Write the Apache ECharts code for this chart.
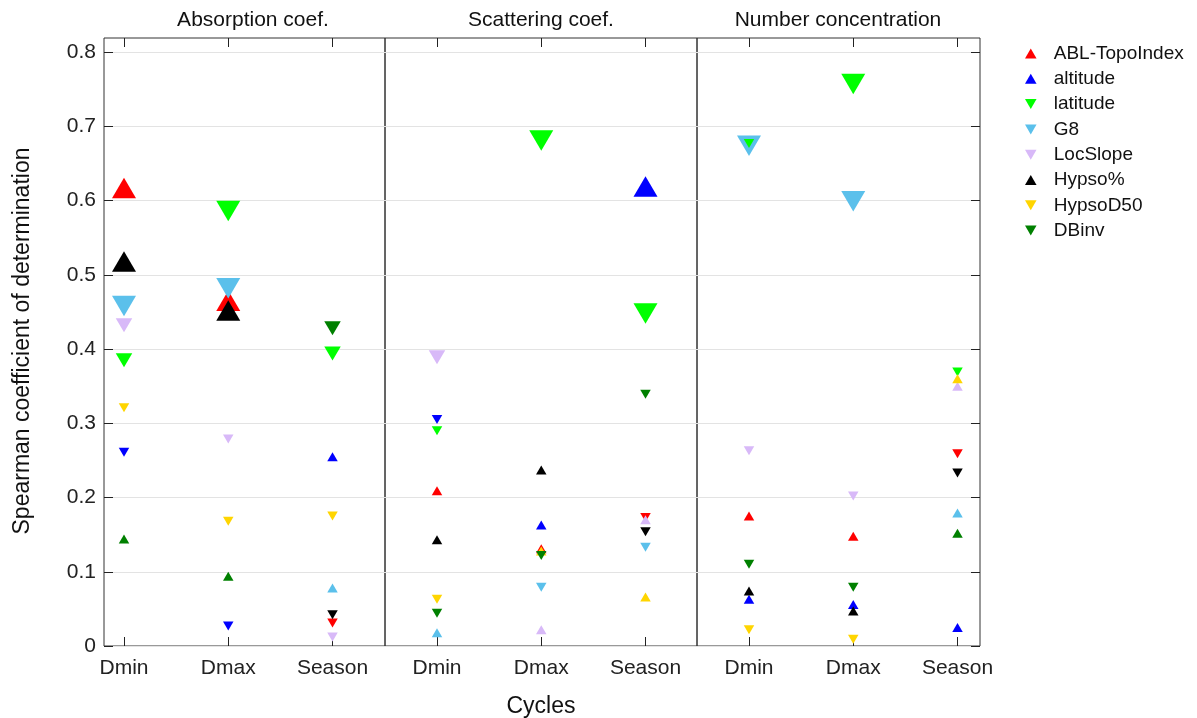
<!DOCTYPE html>
<html><head><meta charset="utf-8">
<script src="https://cdn.jsdelivr.net/npm/echarts@6/dist/echarts.min.js"></script>
<style>html,body{margin:0;padding:0;background:#fff}#c{width:1197px;height:718px}</style>
</head><body><div id="c"></div>
<script>
// ---------------- data ----------------
const cycles = ['Dmin', 'Dmax', 'Season'];
const panelTitles = ['Absorption coef.', 'Scattering coef.', 'Number concentration'];
const variables = ['ABL-TopoIndex', 'altitude', 'latitude', 'G8', 'LocSlope', 'Hypso%', 'HypsoD50', 'DBinv'];
// legend triangle direction (1 = up / positive, -1 = down / negative)
const legendSign = [1, 1, -1, -1, -1, 1, -1, -1];
const yTicks = [0, 0.1, 0.2, 0.3, 0.4, 0.5, 0.6, 0.7, 0.8];

// Spearman r^2, signed by correlation direction; rows = variables, cols = Dmin, Dmax, Season
const absorptionR2 = [
  [ 0.617,  0.465, -0.031],
  [-0.261, -0.027,  0.255],
  [-0.385, -0.586, -0.394],
  [-0.458, -0.482,  0.078],
  [-0.432, -0.279, -0.012],
  [ 0.518,  0.452, -0.042],
  [-0.321, -0.168, -0.175],
  [ 0.144,  0.094, -0.428]
];
const scatteringR2 = [
  [ 0.209,  0.131, -0.173],
  [-0.305,  0.163,  0.619],
  [-0.290, -0.681, -0.448],
  [ 0.018, -0.079, -0.133],
  [-0.389,  0.022,  0.170],
  [ 0.143,  0.237, -0.154],
  [-0.063,  0.128,  0.066],
  [-0.044, -0.122, -0.339]
];
const numberR2 = [
  [ 0.175,  0.148, -0.259],
  [ 0.063,  0.056,  0.025],
  [-0.677, -0.757, -0.369],
  [-0.674, -0.599,  0.179],
  [-0.263, -0.202,  0.350],
  [ 0.074,  0.047, -0.233],
  [-0.022, -0.009,  0.360],
  [-0.110, -0.079,  0.152]
];
// significance class (0 = low, 1 = medium, 2 = high)
const absorptionSig = [[2,2,0],[0,0,0],[1,2,1],[2,2,0],[1,0,0],[2,2,0],[0,0,0],[0,0,1]];
const scatteringSig = [[0,0,0],[0,0,2],[0,2,2],[0,0,0],[1,0,0],[0,0,0],[0,0,0],[0,0,0]];
const numberSig     = [[0,0,0],[0,0,0],[0,2,0],[2,2,0],[0,0,0],[0,0,0],[0,0,0],[0,0,0]];

// ---------------- styling / layout ----------------
const colors = ['#FF0000', '#0000FF', '#00FF00', '#5BC0EB', '#D8B9F8', '#000000', '#FFD500', '#008000'];
const DOWN = 'path://M0,0L20,0L10,17.32Z';
const UP = 'path://M10,0L20,17.32L0,17.32Z';
const symbolSizes = [[10.5, 9], [16.5, 14], [24, 20.5]];
const FONT = 'Liberation Sans, Arial, Helvetica, sans-serif';
const panelR2 = [absorptionR2, scatteringR2, numberR2];
const panelSig = [absorptionSig, scatteringSig, numberSig];
const gridLeft = [104, 385, 697];
const gridWidth = [281, 312, 283];
const firstCatPx = [124, 437, 749];
const titleX = [253, 541, 838];
const pxPerCat = 104.25;
const TOP = 38, HEIGHT = 608;
const YMAX = 0.819;

const grids = [], xAxes = [], yAxes = [], series = [], graphics = [];
const catIdx = cycles.map((c, i) => i);

gridLeft.forEach((left, p) => {
  grids.push({left: left, top: TOP, width: gridWidth[p], height: HEIGHT, show: true,
    borderColor: '#333', borderWidth: 1, backgroundColor: 'transparent', containLabel: false});
  const xmin = (left - firstCatPx[p]) / pxPerCat;
  const xmax = (left + gridWidth[p] - firstCatPx[p]) / pxPerCat;
  const tickStyle = {show: true, inside: true, length: 9, customValues: catIdx, lineStyle: {color: '#222', width: 1}};
  xAxes.push({type: 'value', gridIndex: p, min: xmin, max: xmax, position: 'bottom',
    axisLine: {show: false, onZero: false}, splitLine: {show: false},
    axisTick: tickStyle,
    axisLabel: {show: true, customValues: catIdx, margin: 12, color: '#222', fontSize: 21, fontFamily: FONT,
      formatter: v => cycles[Math.round(v)] || ''}
  });
  xAxes.push({type: 'value', gridIndex: p, min: xmin, max: xmax, position: 'top',
    axisLine: {show: false, onZero: false}, splitLine: {show: false},
    axisTick: tickStyle, axisLabel: {show: false}
  });
  const yTickStyle = {show: p === 0, inside: true, length: 9, customValues: yTicks, lineStyle: {color: '#222', width: 1}};
  yAxes.push({type: 'value', gridIndex: p, min: 0, max: YMAX, interval: 0.1, position: 'left',
    axisLine: {show: false, onZero: false},
    splitLine: {show: true, lineStyle: {color: '#e3e3e3', width: 1}},
    axisTick: yTickStyle,
    axisLabel: {show: p === 0, customValues: yTicks, margin: 8, color: '#222', fontSize: 21, fontFamily: FONT,
      formatter: v => v === 0 ? '0' : v.toFixed(1)}
  });
  if (p === 2) {
    yAxes.push({type: 'value', gridIndex: p, min: 0, max: YMAX, interval: 0.1, position: 'right',
      axisLine: {show: false, onZero: false}, splitLine: {show: false},
      axisTick: {show: true, inside: true, length: 9, customValues: yTicks, lineStyle: {color: '#222', width: 1}},
      axisLabel: {show: false}
    });
  }
  graphics.push({type: 'text', x: titleX[p], y: 20,
    style: {text: panelTitles[p], fill: '#111', font: '21px ' + FONT, textAlign: 'center', textVerticalAlign: 'middle'}});
});

const yIndexOfPanel = [0, 1, 2];
panelR2.forEach((mat, p) => {
  variables.forEach((name, v) => {
    // large (significant) markers drawn underneath the smaller ones
    [[2], [0, 1]].forEach((classes, g) => {
      const data = [];
      mat[v].forEach((val, c) => {
        const s = panelSig[p][v][c];
        if (classes.indexOf(s) < 0) return;
        data.push({value: [c, Math.abs(val)], symbol: val >= 0 ? UP : DOWN, symbolSize: symbolSizes[s]});
      });
      if (!data.length) return;
      series.push({type: 'scatter', name: name, xAxisIndex: p * 2, yAxisIndex: yIndexOfPanel[p],
        z: g === 0 ? 2 : 3, symbolKeepAspect: false, symbol: legendSign[v] > 0 ? UP : DOWN,
        itemStyle: {color: colors[v], opacity: 1}, emphasis: {disabled: true}, silent: true,
        animation: false, data: data});
    });
  });
});

graphics.push({type: 'text', x: 541, y: 707,
  style: {text: 'Cycles', fill: '#111', font: '23px ' + FONT, textAlign: 'center', textVerticalAlign: 'middle'}});
graphics.push({type: 'text', x: 23, y: 341, rotation: Math.PI / 2,
  style: {text: 'Spearman coefficient of determination', fill: '#111', font: '23px ' + FONT, textAlign: 'center', textVerticalAlign: 'middle'}});

const chart = echarts.init(document.getElementById('c'), null, {renderer: 'canvas'});
chart.setOption({
  animation: false,
  color: colors,
  grid: grids, xAxis: xAxes, yAxis: yAxes, series: series, graphic: graphics,
  legend: {
    orient: 'vertical', left: 1025, top: 44, padding: 0, itemGap: 6.3,
    itemWidth: 36, itemHeight: 10, symbolKeepAspect: true, selectedMode: false,
    textStyle: {fontSize: 19, fontFamily: FONT, color: '#111'},
    data: variables.map((n, i) => ({name: n, icon: legendSign[i] > 0 ? UP : DOWN, itemStyle: {color: colors[i]}}))
  }
});
</script></body></html>
